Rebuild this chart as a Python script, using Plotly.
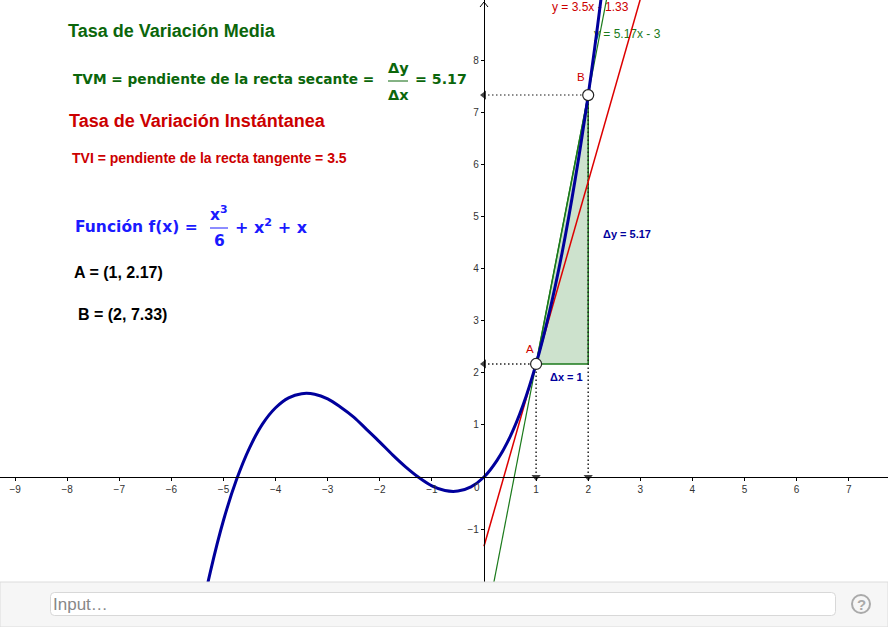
import plotly.graph_objects as go

# curve
curve_x = [-5.5, -5.25, -5, -4.75, -4.5, -4.25, -4, -3.75, -3.5, -3.25, -3, -2.75, -2.5, -2.25, -2, -1.75,
           -1.5, -1.25, -1, -0.75, -0.5, -0.25, 0, 0.25, 0.5, 0.75, 1, 1.25, 1.5, 1.75, 2, 2.25, 2.5]
curve_y = [-2.98, -1.81, -0.83, -0.05, 0.56, 1.02, 1.33, 1.52, 1.60, 1.59, 1.5, 1.34, 1.15, 0.91, 0.67, 0.42,
           0.19, -0.01, -0.17, -0.26, -0.27, -0.19, 0, 0.32, 0.77, 1.38, 2.17, 3.14, 4.31, 5.71, 7.33, 9.21, 11.35]

tangent_x = [0, 3.2]
tangent_y = [-1.33, 9.87]
secant_x = [0, 2.5]
secant_y = [-3, 9.93]

point_x = [1, 2]
point_y = [2.17, 7.33]
point_names = ["A", "B"]

x_ticks = [-9, -8, -7, -6, -5, -4, -3, -2, -1, 1, 2, 3, 4, 5, 6, 7]
y_ticks = [-1, 1, 2, 3, 4, 5, 6, 7, 8]

W, H = 888, 627
PANEL_TOP = 582
UNIT = 52.1
X0, Y0 = 484, 477

GREEN = "#0b660b"
RED = "#cc0000"
BLUE = "#1a1aff"
NAVY = "#00009c"
LINE_GREEN = "#1b7a1b"


def px(x):
    return x / W


def py(y):
    return 1 - y / H


def label(text, x, y, size, color, family="Liberation Sans", anchor="left", bold=True):
    if bold:
        text = "<b>" + text + "</b>"
    # annotations pad their box by about 2px
    if anchor == "left":
        x = x - 2
    fig.add_annotation(text=text, x=px(x), y=py(y), xref="paper", yref="paper", showarrow=False,
                       xanchor=anchor, yanchor="middle", align="left",
                       font=dict(family=family, size=size, color=color))


def rounded_box(x0, y0, x1, y1, r):
    # svg path in pixel terms, turned into paper fractions
    return (f"M {px(x0 + r)} {py(y0)} L {px(x1 - r)} {py(y0)} Q {px(x1)} {py(y0)} {px(x1)} {py(y0 + r)} "
            f"L {px(x1)} {py(y1 - r)} Q {px(x1)} {py(y1)} {px(x1 - r)} {py(y1)} "
            f"L {px(x0 + r)} {py(y1)} Q {px(x0)} {py(y1)} {px(x0)} {py(y1 - r)} "
            f"L {px(x0)} {py(y0 + r)} Q {px(x0)} {py(y0)} {px(x0 + r)} {py(y0)} Z")


fig = go.Figure()

# shaded slope triangle
fig.add_trace(go.Scatter(x=[point_x[0], point_x[1], point_x[1], point_x[0]],
                         y=[point_y[0], point_y[0], point_y[1], point_y[0]],
                         mode="lines", fill="toself", fillcolor="rgba(27,122,27,0.22)",
                         line=dict(color=LINE_GREEN, width=1.5)))

# line labels go under the curve like in the original
fig.add_trace(go.Scatter(x=[(552 - X0) / UNIT, (594 - X0) / UNIT], y=[(Y0 - 8) / UNIT, (Y0 - 35) / UNIT],
                         mode="text", text=["y = 3.5x - 1.33", "y = 5.17x - 3"], textposition="middle right",
                         textfont=dict(family="Liberation Sans", size=12, color=[RED, LINE_GREEN]),
                         cliponaxis=False))

# dotted guides
dots = "1.5px 2.5px"
fig.add_trace(go.Scatter(x=[0, point_x[0]], y=[point_y[0], point_y[0]], mode="lines",
                         line=dict(color="#222222", width=1.5, dash=dots)))
fig.add_trace(go.Scatter(x=[0, point_x[1]], y=[point_y[1], point_y[1]], mode="lines",
                         line=dict(color="#666666", width=1.5, dash=dots)))
fig.add_trace(go.Scatter(x=[point_x[0], point_x[0]], y=[0, point_y[0]], mode="lines",
                         line=dict(color="#222222", width=1.5, dash=dots)))
fig.add_trace(go.Scatter(x=[point_x[1], point_x[1]], y=[0, point_y[1]], mode="lines",
                         line=dict(color="#222222", width=1.5, dash=dots)))
fig.add_trace(go.Scatter(x=[0, 0], y=point_y, mode="markers",
                         marker=dict(symbol="triangle-left", size=8, color="#444444")))
fig.add_trace(go.Scatter(x=point_x, y=[0, 0], mode="markers",
                         marker=dict(symbol="triangle-down", size=8, color="#444444")))

fig.add_trace(go.Scatter(x=tangent_x, y=tangent_y, mode="lines", line=dict(color="#dd0000", width=1.5)))
fig.add_trace(go.Scatter(x=secant_x, y=secant_y, mode="lines", line=dict(color=LINE_GREEN, width=1.2)))
fig.add_trace(go.Scatter(x=curve_x, y=curve_y, mode="lines", line=dict(color=NAVY, width=3, shape="spline")))
fig.add_trace(go.Scatter(x=point_x, y=point_y, mode="markers",
                         marker=dict(size=11, color="white", line=dict(color="#222222", width=1.2))))

# left column of text
label("Tasa de Variación Media", 68, 31, 18, GREEN)
label("TVM = pendiente de la recta secante =", 73, 79, 13.7, GREEN, "DejaVu Sans")
label("Δy", 388, 68, 14.5, GREEN, "DejaVu Sans")
label("Δx", 388, 95, 14.5, GREEN, "DejaVu Sans")
label("= 5.17", 415, 79, 14.2, GREEN, "DejaVu Sans")
label("Tasa de Variación Instántanea", 69, 121, 18, RED)
label("TVI = pendiente de la recta tangente = 3.5", 72, 158, 14, RED)
label("Función f(x) =", 75, 227, 15.5, BLUE, "DejaVu Sans")
label("x<sup>3</sup>", 210, 213, 15.5, BLUE, "DejaVu Sans")
label("6", 214, 241, 15.5, BLUE, "DejaVu Sans")
label("+ x<sup>2</sup> + x", 235, 226, 16, BLUE, "DejaVu Sans")
label("A = (1, 2.17)", 74, 272, 16, "black")
label("B = (2, 7.33)", 78, 314, 16, "black")

# labels in the graph
label("A", 526, 349, 11.5, RED, bold=False)
label("B", 577, 77, 11.5, RED, bold=False)
label("Δy = 5.17", 603, 234, 11, NAVY)
label("Δx = 1", 550, 377, 11, NAVY)
label("0", 474, 487, 10, "#333333", bold=False)

# input bar
label("Input…", 53, 604, 17, "#888888", bold=False)
label("?", 861, 604, 15, "#aaaaaa", anchor="center")

shapes = [
    # fraction bars
    dict(type="line", xref="paper", yref="paper", x0=px(388), x1=px(408), y0=py(81), y1=py(81),
         line=dict(color=GREEN, width=1)),
    dict(type="line", xref="paper", yref="paper", x0=px(210), x1=px(228), y0=py(228), y1=py(228),
         line=dict(color=BLUE, width=1)),
    # arrow head of the y axis
    dict(type="path", xref="paper", yref="paper",
         path=f"M {px(X0 - 4)} {py(7)} L {px(X0)} {py(2)} L {px(X0 + 4)} {py(7)}",
         line=dict(color="black", width=1)),
    # bottom panel
    dict(type="rect", xref="paper", yref="paper", x0=0, x1=1, y0=0, y1=py(PANEL_TOP),
         fillcolor="#f6f6f6", line=dict(color="#dcdcdc", width=1), layer="above"),
    dict(type="path", xref="paper", yref="paper", path=rounded_box(50.5, 592.5, 835.5, 615.5, 4),
         fillcolor="white", line=dict(color="#d8d8d8", width=1), layer="above"),
    dict(type="circle", xref="paper", yref="paper", x0=px(852), x1=px(870), y0=py(613), y1=py(595),
         fillcolor="rgba(0,0,0,0)", line=dict(color="#aaaaaa", width=2), layer="above"),
]

fig.update_layout(
    width=W, height=H, margin=dict(l=0, r=0, t=0, b=0), showlegend=False,
    paper_bgcolor="white", plot_bgcolor="white", shapes=shapes,
    xaxis=dict(range=[-X0 / UNIT, (W - X0) / UNIT], anchor="free", position=1 - Y0 / H,
               tickmode="array", tickvals=x_ticks, ticks="outside", ticklen=3, tickwidth=1,
               tickcolor="black", showline=True, linecolor="black", linewidth=1.2, showgrid=False,
               zeroline=False, tickfont=dict(family="Liberation Sans", size=10, color="#333333")),
    yaxis=dict(range=[(Y0 - PANEL_TOP) / UNIT, Y0 / UNIT], domain=[1 - PANEL_TOP / H, 1],
               anchor="free", position=X0 / W,
               tickmode="array", tickvals=y_ticks, ticks="outside", ticklen=3, tickwidth=1,
               tickcolor="black", showline=True, linecolor="black", linewidth=1.2, showgrid=False,
               zeroline=False, tickfont=dict(family="Liberation Sans", size=10, color="#333333")),
)

# the default page margin would shift everything by 8px
fig.write_html("out.html", post_script="document.body.style.margin='0';",
               config={"displayModeBar": False})
